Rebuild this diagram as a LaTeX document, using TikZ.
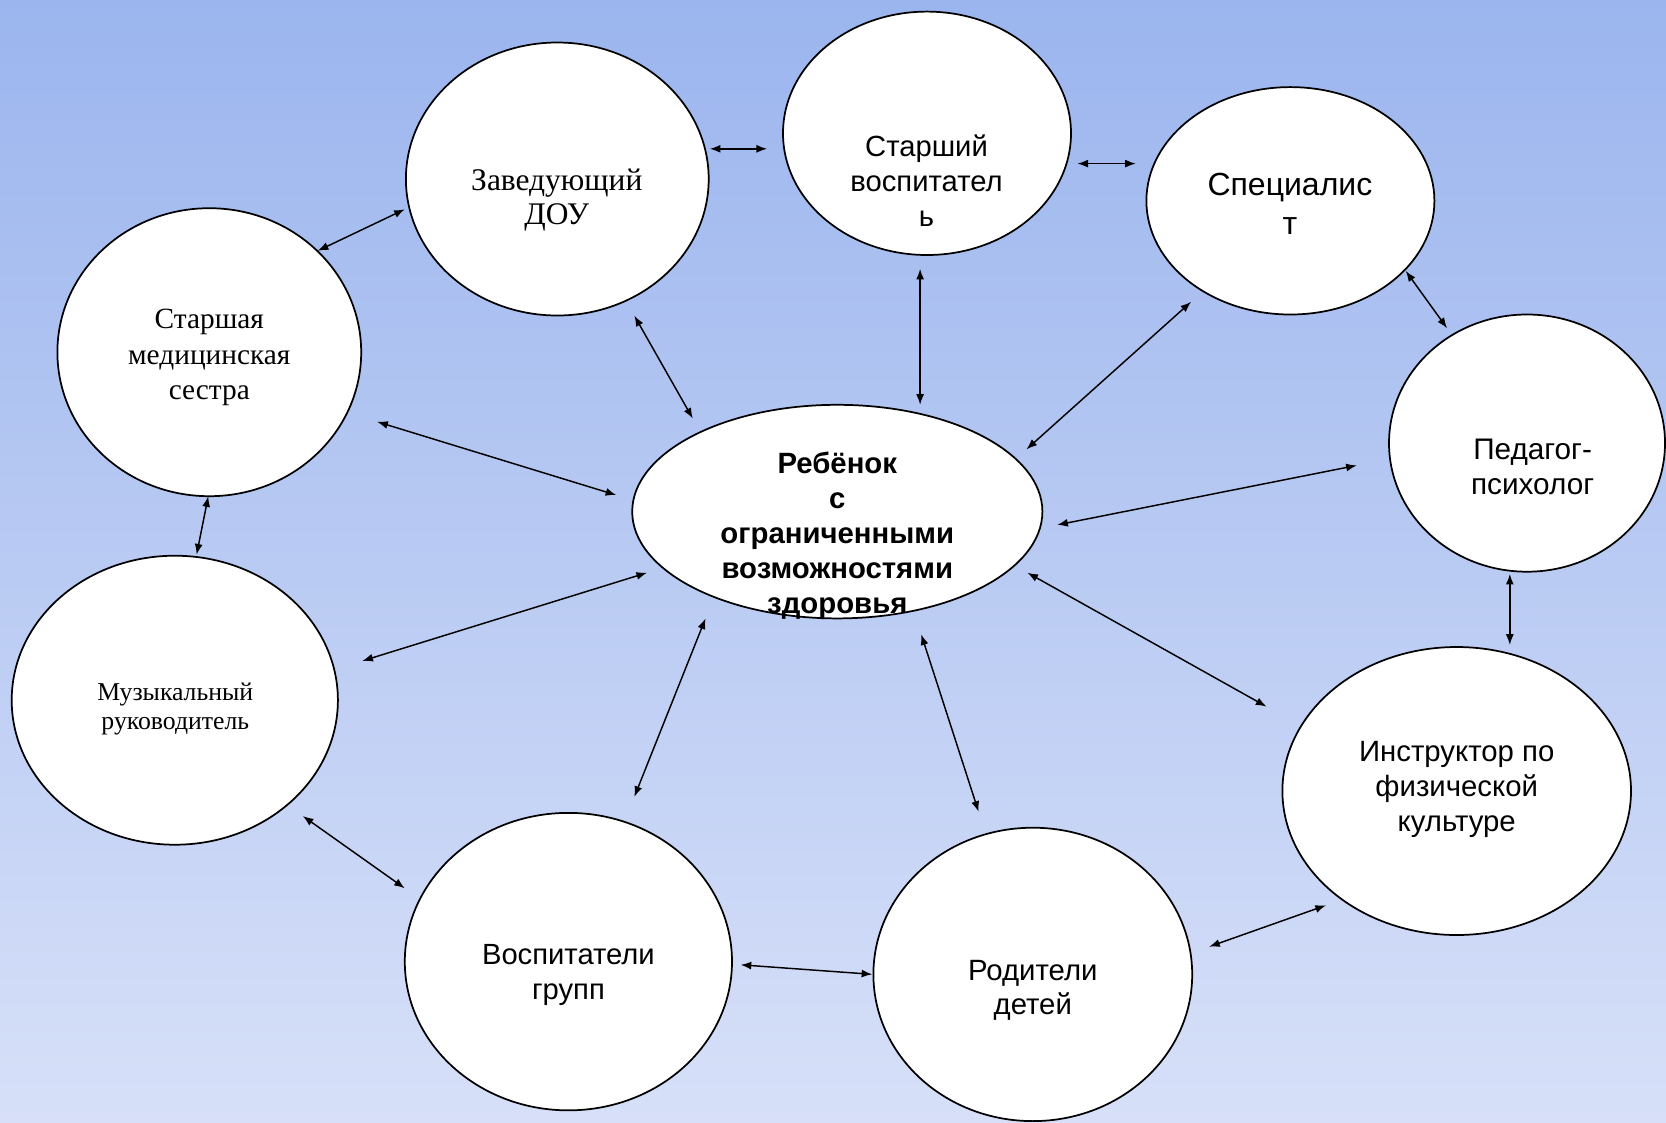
\documentclass[tikz,border=0pt]{standalone}
\usepackage{fontspec}
\setmainfont{Liberation Serif}
\newfontfamily\arialf{Liberation Sans}
\newfontfamily\timesf{Liberation Serif}
\usetikzlibrary{shapes.geometric,arrows.meta}
\definecolor{bgtop}{RGB}{155,181,238}
\definecolor{bgbot}{RGB}{215,224,248}
\tikzset{
  ell/.style={ellipse,draw=black,line width=1.3pt,fill=white,inner sep=0pt},
  lbl/.style={align=center,inner sep=0pt,text=black},
  conn/.style={line width=1.1pt,{Latex[length=8pt,width=6pt]}-{Latex[length=8pt,width=6pt]}}
}
\begin{document}
\begin{tikzpicture}[x=0.75pt,y=-0.75pt]
\shade[top color=bgtop,bottom color=bgbot] (0,0) rectangle (1666,1122);
\useasboundingbox (0,0) rectangle (1666,1122);

% ellipses
\node[ell,minimum width=227.1pt,minimum height=204.75pt] (zav) at (557.3,179.0) {};
\node[ell,minimum width=216pt,minimum height=182.55pt] (stv) at (927.0,133.3) {};
\node[ell,minimum width=216pt,minimum height=170.55pt] (spec) at (1290.4,200.8) {};
\node[ell,minimum width=207pt,minimum height=192.9pt] (ped) at (1527,443.1) {};
\node[ell,minimum width=261.45pt,minimum height=216pt] (instr) at (1456.7,791.0) {};
\node[ell,minimum width=239.1pt,minimum height=220.05pt] (rod) at (1032.8,974.4) {};
\node[ell,minimum width=245.4pt,minimum height=223.1pt] (vosp) at (568.4,961.6) {};
\node[ell,minimum width=244.65pt,minimum height=216.75pt] (muz) at (174.8,700.2) {};
\node[ell,minimum width=227.85pt,minimum height=216pt] (med) at (209.3,352.2) {};
\node[ell,minimum width=307.65pt,minimum height=160.2pt] (child) at (837.3,511.6) {};

% texts
\node[lbl,font=\timesf\fontsize{23.6}{25.5}\selectfont] (tzav) at (556.8,199.8) {Заведующий\\ДОУ};
\node[lbl,font=\arialf\fontsize{21.9}{26.25}\selectfont] (tstv) at (926.5,180.6) {Старший\\воспитател\\ь};
\node[lbl,font=\arialf\fontsize{24}{29}\selectfont] (tspec) at (1289.9,204.0) {Специалис\\т};
\node[lbl,font=\arialf\fontsize{22.3}{26.25}\selectfont] (tped) at (1532.6,467.0) {Педагог-\\психолог};
\node[lbl,font=\arialf\fontsize{22}{26.25}\selectfont] (tinstr) at (1456.7,789.8) {Инструктор по\\физической\\культуре};
\node[lbl,font=\arialf\fontsize{22}{25.5}\selectfont] (trod) at (1032.8,990.3) {Родители\\детей};
\node[lbl,font=\arialf\fontsize{21.9}{26.25}\selectfont] (tvosp) at (568.4,974.9) {Воспитатели\\групп};
\node[lbl,font=\timesf\fontsize{19.3}{21.5}\selectfont] (tmuz) at (175.3,709.2) {Музыкальный\\руководитель};
\node[lbl,font=\timesf\fontsize{22}{26.7}\selectfont] (tmed) at (209.3,357.5) {Старшая\\медицинская\\сестра};
\node[lbl,font=\arialf\bfseries\fontsize{22}{26.25}\selectfont] (tchild) at (837.3,535.5) {Ребёнок\\с\\ограниченными\\возможностями\\здоровья};

% connector end points
\coordinate (a1s) at (709.8,148.8);  \coordinate (a1e) at (767.1,148.8);
\coordinate (a2s) at (1077.4,163.6); \coordinate (a2e) at (1135.8,163.6);
\coordinate (a3s) at (317.7,250.8);  \coordinate (a3e) at (404.8,209.3);
\coordinate (a4s) at (1405.7,270.9); \coordinate (a4e) at (1447.1,328.3);
\coordinate (a5s) at (634.3,315.6);  \coordinate (a5e) at (692.8,418.6);
\coordinate (a6s) at (920.1,268.8);  \coordinate (a6e) at (920.1,404.8);
\coordinate (a7s) at (1191.1,301.8); \coordinate (a7e) at (1026.4,449.4);
\coordinate (a8s) at (377.2,421.8);  \coordinate (a8e) at (616.3,495.1);
\coordinate (a9s) at (1356.8,465.4); \coordinate (a9e) at (1057.2,524.9);
\coordinate (a10s) at (208.3,496.2); \coordinate (a10e) at (196.6,554.6);
\coordinate (a11s) at (362.3,660.9); \coordinate (a11e) at (647.1,572.7);
\coordinate (a12s) at (1027.4,572.7); \coordinate (a12e) at (1266.5,706.6);
\coordinate (a13s) at (1509.8,573.8); \coordinate (a13e) at (1509.8,644.9);
\coordinate (a14s) at (705.5,618.4); \coordinate (a14e) at (634.3,796.9);
\coordinate (a15s) at (921.2,634.3); \coordinate (a15e) at (978.6,811.8);
\coordinate (a16s) at (302.8,816.0); \coordinate (a16e) at (404.8,888.3);
\coordinate (a17s) at (740.6,964.8); \coordinate (a17e) at (872.3,974.3);
\coordinate (a18s) at (1209.1,946.7); \coordinate (a18e) at (1326.0,905.3);

\foreach \i in {1,...,18}{\draw[conn] (a\i s) -- (a\i e);}
\end{tikzpicture}
\end{document}
